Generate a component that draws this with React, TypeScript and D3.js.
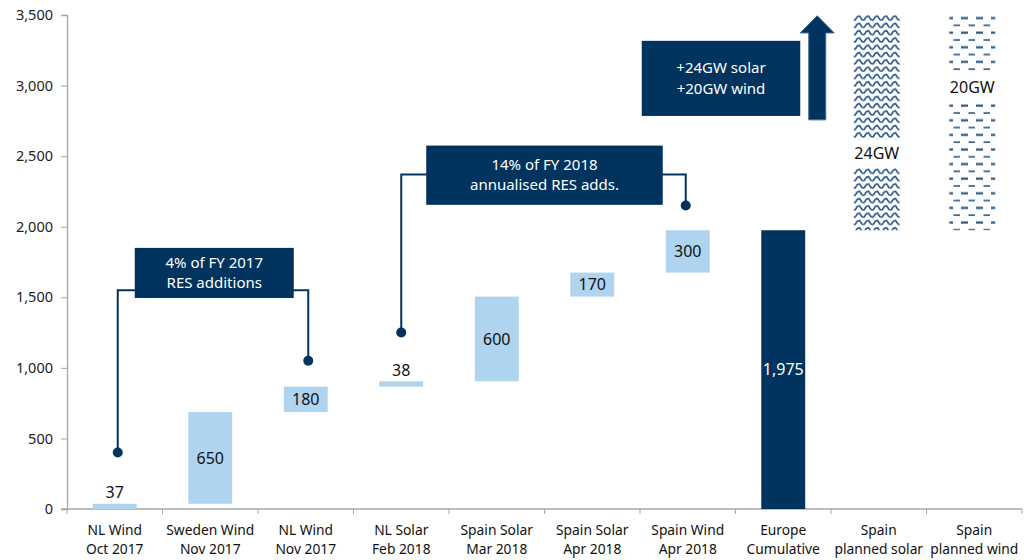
import React, { useEffect, useRef } from "react";
import * as d3 from "d3";

const categories: string[][] = [
  ["NL Wind", "Oct 2017"],
  ["Sweden Wind", "Nov 2017"],
  ["NL Wind", "Nov 2017"],
  ["NL Solar", "Feb 2018"],
  ["Spain Solar", "Mar 2018"],
  ["Spain Solar", "Apr 2018"],
  ["Spain Wind", "Apr 2018"],
  ["Europe", "Cumulative"],
  ["Spain", "planned solar"],
  ["Spain", "planned wind"],
];
const increments = [37, 650, 180, 38, 600, 170, 300];
const totalValue = 1975;
const plannedTop = 3500;
const plannedLabels = ["24GW", "20GW"];
const plannedLabelValues = [2520, 2990];
const yTicks = [0, 500, 1000, 1500, 2000, 2500, 3000, 3500];

const callout1 = { lines: ["4% of FY 2017", "RES additions"], leftDot: 400, rightDot: 1050, lineVal: 1550, boxTop: 1850, boxBottom: 1495 };
const callout2 = { lines: ["14% of FY 2018", "annualised RES adds."], leftDot: 1250, rightDot: 2150, lineVal: 2370, boxTop: 2575, boxBottom: 2155 };
const plannedBox = { lines: ["+24GW solar", "+20GW wind"], top: 3317, bottom: 2785 };

const W = 1024, H = 560;
const LIGHT = "#aed4f0";
const DARK = "#00335e";
const FONT = "'Noto Sans', 'Open Sans', sans-serif";

export default function App() {
  const ref = useRef<SVGSVGElement>(null);
  useEffect(() => {
    const svg = d3.select(ref.current!);
    svg.selectAll("*").remove();
    const x0 = 67, x1 = 1022, yTop = 15, yBot = 509;
    const x = d3.scaleBand<number>().domain(d3.range(categories.length)).range([x0, x1]).padding(0);
    const y = d3.scaleLinear().domain([0, 3500]).range([yBot, yTop]);
    const bw = x.bandwidth() * 0.46;
    const cx = (i: number) => x(i)! + x.bandwidth() / 2;

    const defs = svg.append("defs");
    const pw = defs.append("pattern").attr("id", "wave").attr("patternUnits", "userSpaceOnUse")
      .attr("width", 9).attr("height", 7.3);
    pw.append("rect").attr("width", 9).attr("height", 7.3).attr("fill", "white");
    pw.append("path").attr("d", "M0,5.6 L2.25,2.2 L4.5,1.4 L6.75,4.8 L9,5.6")
      .attr("fill", "none").attr("stroke", "#2f5d88").attr("stroke-width", 1.7).attr("stroke-linejoin", "round");
    pw.append("path").attr("d", "M-1,6 L0,5.6 M9,5.6 L10,6")
      .attr("fill", "none").attr("stroke", "#2f5d88").attr("stroke-width", 1.7);
    const pd = defs.append("pattern").attr("id", "dash").attr("patternUnits", "userSpaceOnUse")
      .attr("width", 15).attr("height", 14.6);
    pd.append("rect").attr("width", 15).attr("height", 14.6).attr("fill", "white");
    pd.append("line").attr("x1", 1).attr("x2", 8).attr("y1", 3.5).attr("y2", 3.5)
      .attr("stroke", "#2a5882").attr("stroke-width", 2.2);
    pd.append("line").attr("x1", 8.5).attr("x2", 15).attr("y1", 10.8).attr("y2", 10.8)
      .attr("stroke", "#3d6a93").attr("stroke-width", 1.8);

    const ya = svg.append("g").attr("transform", `translate(${x0},0)`)
      .call(d3.axisLeft(y).tickValues(yTicks).tickFormat(d3.format(",")).tickSize(6).tickPadding(8));
    ya.select(".domain").attr("stroke", "#a6a6a6").attr("stroke-width", 1.3);
    ya.selectAll(".tick line").attr("stroke", "#a6a6a6");
    ya.selectAll("text").attr("font-family", FONT).attr("font-size", 14.5).attr("fill", "#222");

    const xa = svg.append("g").attr("transform", `translate(0,${yBot})`);
    xa.append("line").attr("x1", x0 - 6).attr("x2", x1).attr("stroke", "#a6a6a6").attr("stroke-width", 1.3);
    d3.range(categories.length + 1).forEach(i => {
      const xx = i < categories.length ? x(i)! : x1;
      xa.append("line").attr("x1", xx).attr("x2", xx).attr("y1", 0).attr("y2", 5).attr("stroke", "#a6a6a6");
    });
    categories.forEach((c, i) => {
      const t = xa.append("text").attr("text-anchor", "middle").attr("font-family", FONT)
        .attr("font-size", 13.8).attr("fill", "#111");
      c.forEach((ln, k) => t.append("tspan").attr("x", cx(i)).attr("y", 26 + k * 19).text(ln));
    });

    let base = 0;
    increments.forEach((v, i) => {
      const y0 = y(base), y1 = y(base + v);
      svg.append("rect").attr("x", cx(i) - bw / 2).attr("y", y1).attr("width", bw)
        .attr("height", y0 - y1).attr("fill", LIGHT);
      const h = y0 - y1;
      const ty = h < 15 ? y1 - 11 : (y0 + y1) / 2;
      svg.append("text").attr("x", cx(i)).attr("y", ty).attr("dy", "0.35em")
        .attr("text-anchor", "middle").attr("font-family", FONT).attr("font-size", 16)
        .attr("fill", "#111").text(d3.format(",")(v));
      base += v;
    });
    const ti = increments.length;
    svg.append("rect").attr("x", cx(ti) - bw / 2).attr("y", y(totalValue)).attr("width", bw)
      .attr("height", y(0) - y(totalValue)).attr("fill", DARK);
    svg.append("text").attr("x", cx(ti)).attr("y", y(totalValue / 2)).attr("dy", "0.35em")
      .attr("text-anchor", "middle").attr("font-family", FONT).attr("font-size", 16)
      .attr("fill", "white").text(d3.format(",")(totalValue));

    ["wave", "dash"].forEach((p, k) => {
      const i = ti + 1 + k;
      const bx = cx(i) - bw / 2 - 3;
      svg.append("rect").attr("x", bx).attr("y", y(plannedTop)).attr("width", bw + 2)
        .attr("height", y(totalValue) - y(plannedTop)).attr("fill", `url(#${p})`);
      const ly = y(plannedLabelValues[k]);
      svg.append("rect").attr("x", bx - 2).attr("y", ly - 14).attr("width", bw + 8).attr("height", 28).attr("fill", "white");
      svg.append("text").attr("x", bx + (bw + 2) / 2).attr("y", ly).attr("dy", "0.35em")
        .attr("text-anchor", "middle").attr("font-family", FONT).attr("font-size", 16)
        .attr("fill", "#111").text(plannedLabels[k]);
    });

    const drawCallout = (c: typeof callout1, bxL: number, bxR: number, lx: number, rx: number) => {
      const ly = y(c.lineVal);
      svg.append("path").attr("d", `M${lx},${y(c.leftDot)}V${ly}H${rx}V${y(c.rightDot)}`)
        .attr("fill", "none").attr("stroke", DARK).attr("stroke-width", 2);
      svg.append("circle").attr("cx", lx).attr("cy", y(c.leftDot)).attr("r", 5).attr("fill", DARK);
      svg.append("circle").attr("cx", rx).attr("cy", y(c.rightDot)).attr("r", 5).attr("fill", DARK);
      const t0 = y(c.boxTop), t1 = y(c.boxBottom);
      svg.append("rect").attr("x", bxL).attr("y", t0).attr("width", bxR - bxL).attr("height", t1 - t0).attr("fill", DARK);
      const mid = (t0 + t1) / 2;
      c.lines.forEach((ln, k) => svg.append("text").attr("x", (bxL + bxR) / 2).attr("y", mid + (k - 0.5) * 20)
        .attr("dy", "0.35em").attr("text-anchor", "middle").attr("font-family", FONT)
        .attr("font-size", 15).attr("fill", "white").text(ln));
    };
    drawCallout(callout1, cx(0) + 20, cx(2) - 12, cx(0) + 3, cx(2) + 2.5);
    drawCallout(callout2, cx(3) + 25, cx(6) - 25, cx(3), cx(6) - 2);

    const pt = y(plannedBox.top), pb = y(plannedBox.bottom);
    const pl = cx(6) - 46, pr = cx(7) + 17;
    svg.append("rect").attr("x", pl).attr("y", pt).attr("width", pr - pl).attr("height", pb - pt).attr("fill", DARK);
    plannedBox.lines.forEach((ln, k) => svg.append("text").attr("x", (pl + pr) / 2).attr("y", (pt + pb) / 2 + (k - 0.5) * 21)
      .attr("dy", "0.35em").attr("text-anchor", "middle").attr("font-family", FONT)
      .attr("font-size", 15).attr("fill", "white").text(ln));
    const ac = cx(7) + 34;
    const aBot = y(2757), aTip = y(3495), aHead = y(3373);
    svg.append("path").attr("d", `M${ac - 8.5},${aBot}V${aHead}H${ac - 17}L${ac},${aTip}L${ac + 17},${aHead}H${ac + 8.5}V${aBot}Z`)
      .attr("fill", DARK).attr("stroke", "#3f6a92").attr("stroke-width", 1);
  }, []);
  return (
    <svg ref={ref} width={W} height={H} style={{ position: "absolute", left: 0, top: 0, background: "white" }} />
  );
}
